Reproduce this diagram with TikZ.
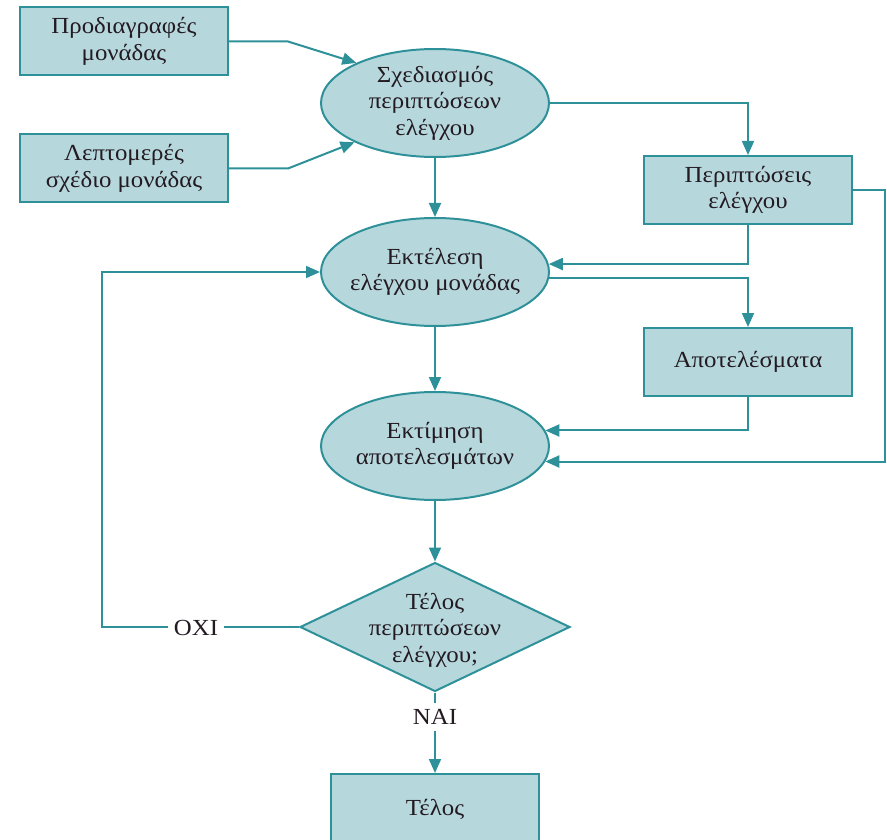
\documentclass[tikz,border=0pt]{standalone}
\usepackage{fontspec}
\setmainfont{Liberation Serif}[FakeStretch=1.08]
\usetikzlibrary{shapes.geometric,arrows.meta}
\definecolor{tealfill}{HTML}{B6D8DC}
\definecolor{tealline}{HTML}{2E9199}
\definecolor{ink}{HTML}{231A22}
\begin{document}
\begin{tikzpicture}[x=1pt,y=-1pt,
  font=\fontsize{23}{26.5}\selectfont, text=ink,
  box/.style={draw=tealline, fill=tealfill, line width=2pt, rectangle,
    minimum width=208pt, minimum height=68pt, inner sep=0pt, align=center},
  ell/.style={draw=tealline, fill=tealfill, line width=2pt, ellipse,
    minimum width=228pt, minimum height=108pt, inner sep=0pt},
  dec/.style={draw=tealline, fill=tealfill, line width=2pt, diamond,
    minimum width=270pt, minimum height=129pt, inner sep=0pt},
  txt/.style={align=center, inner sep=0pt},
  arr/.style={draw=tealline, line width=2pt,
    -{Triangle[length=14pt,width=12pt]}},
  lbl/.style={fill=white, inner sep=6pt}]
\useasboundingbox (0,0) rectangle (887,840);

% process steps
\node[box] (spec) at (124,41.5) {Προδιαγραφές\\μονάδας};
\node[box] (detail) at (124,168.5) {Λεπτομερές\\σχέδιο μονάδας};
\node[ell] (design) at (435,103) {};
\node[txt] (designt) at (design) {Σχεδιασμός\\περιπτώσεων\\ελέγχου};
\node[box] (cases) at (748,190) {Περιπτώσεις\\ελέγχου};
\node[ell] (exec) at (435,272) {};
\node[txt] (exect) at (exec) {Εκτέλεση\\ελέγχου μονάδας};
\node[box] (results) at (748,362) {Αποτελέσματα};
\node[ell] (eval) at (435,446) {};
\node[txt] (evalt) at (eval) {Εκτίμηση\\αποτελεσμάτων};
\node[dec] (test) at (435,627) {};
\node[txt] (testt) at (435,630) {Τέλος\\περιπτώσεων\\ελέγχου;};
\node[box, minimum height=70pt] (done) at (435,809) {Τέλος};

% helper points for the routed connectors
\coordinate (k1) at (288,41.5);
\coordinate (k2) at (288,168.5);
\coordinate (rail) at (885,0);
\coordinate (loop) at (102,0);

% connectors
\draw[arr] (spec.east) -- (k1) -- (design.153);
\draw[arr] (detail.east) -- (k2) -- (design.206);
\draw[arr] (design.south) -- (exec.north);
\draw[arr] (design.east) -| (cases.north);
\draw[arr] (cases.south) |- (exec.4.6);
\draw[arr] (exec.-3.5) -| (results.north);
\draw[arr] (exec.south) -- (eval.north);
\draw[arr] (results.south) |- (eval.8.9);
\draw[arr] (cases.east) -| (rail |- eval.-8.4) -- (eval.-8.4);
\draw[arr] (eval.south) -- (test.north);
\draw[arr] (test.west) -| (loop |- exec.west) -- (exec.west);
\draw[arr] (test.south) -- (done.north);

% branch labels
\node[lbl] (no) at (196,628) {ΟΧΙ};
\node[lbl] (yes) at (435,717) {ΝΑΙ};
\end{tikzpicture}
\end{document}
